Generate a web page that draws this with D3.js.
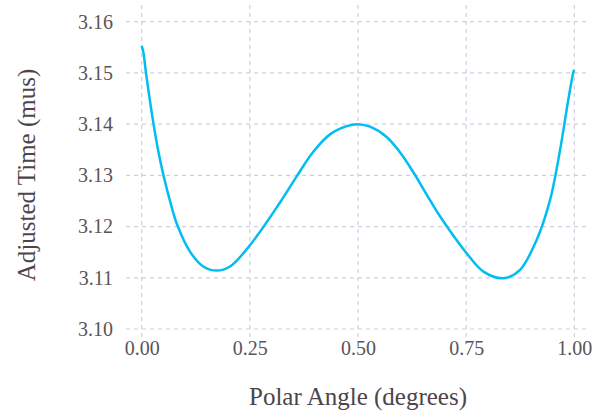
<!DOCTYPE html>
<html>
<head>
<meta charset="utf-8">
<script src="https://cdn.jsdelivr.net/npm/d3@7"></script>
<style>
  body { margin: 0; background: #fff; }
  svg text { font-family: "Liberation Serif", "DejaVu Serif", serif; }
</style>
</head>
<body>
<div id="chart-area"></div>
<script>
// values
const angles = [0, 0.0037, 0.0099, 0.0176, 0.027, 0.038, 0.05, 0.069, 0.0809,
  0.1117, 0.1424, 0.1734, 0.2041, 0.2487, 0.3197, 0.3583, 0.3967, 0.4353, 0.4739,
  0.498, 0.5277, 0.5663, 0.597, 0.628, 0.659, 0.688, 0.751, 0.79, 0.836, 0.874,
  0.913, 0.944, 0.967, 0.986, 0.998, 1.0];
const times = [3.1553, 3.1541, 3.1500, 3.1454, 3.1402, 3.1349, 3.1301, 3.1239, 3.1206,
  3.1151, 3.1122, 3.1114, 3.1122, 3.1162, 3.1247, 3.1298, 3.1346, 3.1380, 3.1396,
  3.1400, 3.1395, 3.1375, 3.1345, 3.1306, 3.1262, 3.1222, 3.1148, 3.1112, 3.1099, 3.1115,
  3.1174, 3.1252, 3.1349, 3.1447, 3.1502, 3.1506];
const xTicks = [0, 0.25, 0.5, 0.75, 1.0];
const yTicks = [3.10, 3.11, 3.12, 3.13, 3.14, 3.15, 3.16];

let width = 595, height = 417;
let panel = { left: 126, right: 590, top: 5, bottom: 340 };

let svg = d3.select("#chart-area")
  .append("svg")
  .attr("width", width)
  .attr("height", height);

let x = d3.scaleLinear().domain([0, 1]).range([141.7, 574.3]);
let y = d3.scaleLinear().domain([3.10, 3.16]).range([329, 21.7]);

let gridColor = "#cfcfe0";

// grid
svg.append("g").selectAll("line")
  .data(xTicks).enter().append("line")
  .attr("x1", d => x(d)).attr("x2", d => x(d))
  .attr("y1", panel.top).attr("y2", panel.bottom)
  .attr("stroke", gridColor).attr("stroke-width", 1.2)
  .attr("stroke-dasharray", "4,4");

svg.append("g").selectAll("line")
  .data(yTicks).enter().append("line")
  .attr("x1", panel.left).attr("x2", panel.right)
  .attr("y1", d => y(d)).attr("y2", d => y(d))
  .attr("stroke", gridColor).attr("stroke-width", 1.2)
  .attr("stroke-dasharray", "4,4");

// axes (labels only)
let xAxis = d3.axisBottom(x).tickValues(xTicks).tickFormat(d3.format(".2f")).tickSize(0).tickPadding(0);
let yAxis = d3.axisLeft(y).tickValues(yTicks).tickFormat(d3.format(".2f")).tickSize(0).tickPadding(0);

let xAxisGroup = svg.append("g")
  .attr("transform", "translate(0," + 341 + ")")
  .call(xAxis);
xAxisGroup.selectAll("text").attr("dy", "0.71em");

let yAxisGroup = svg.append("g")
  .attr("transform", "translate(" + 113 + ",0)")
  .call(yAxis);

[xAxisGroup, yAxisGroup].forEach(g => {
  g.select(".domain").remove();
  g.selectAll("text")
    .attr("fill", "#5a5458")
    .style("font-size", "20px")
    .style("font-family", "Liberation Serif, serif");
});

// line
let line = d3.line()
  .x((d, i) => x(angles[i]))
  .y(d => y(d))
  .curve(d3.curveCatmullRom.alpha(0.5));

svg.append("path")
  .datum(times)
  .attr("d", line)
  .attr("fill", "none")
  .attr("stroke", "#00bdf2")
  .attr("stroke-width", 2.5);

// titles
svg.append("text")
  .attr("x", (x(0) + x(1)) / 2)
  .attr("y", 405)
  .attr("text-anchor", "middle")
  .attr("fill", "#4d4549")
  .style("font-size", "25px")
  .text("Polar Angle (degrees)");

svg.append("text")
  .attr("transform", "translate(35," + 175 + ") rotate(-90)")
  .attr("text-anchor", "middle")
  .attr("fill", "#4d4549")
  .style("font-size", "25px")
  .text("Adjusted Time (mus)");
</script>
</body>
</html>
